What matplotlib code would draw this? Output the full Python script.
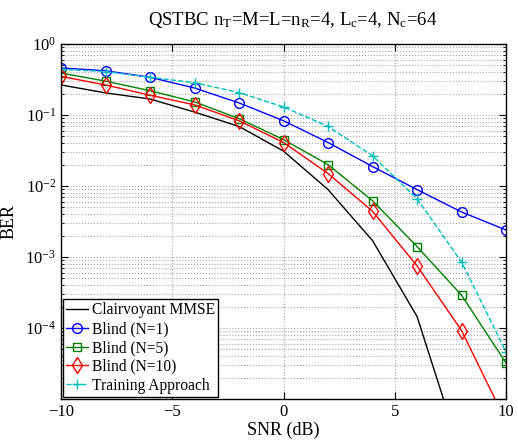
import numpy as np
import matplotlib
matplotlib.use("Agg")
import matplotlib.pyplot as plt
from matplotlib.ticker import LogLocator, NullFormatter, FuncFormatter

plt.rcParams["font.family"] = ["Liberation Serif", "DejaVu Serif"]
plt.rcParams["mathtext.fontset"] = "custom"
plt.rcParams["mathtext.rm"] = "Liberation Serif"
plt.rcParams["mathtext.it"] = "Liberation Serif:italic"

# data
snr = [-10, -8, -6, -4, -2, 0, 2, 4, 6, 8, 10]
snr_mmse = [-10, -8, -6, -4, -2, 0, 2, 4, 6, 8]
ber_mmse = [0.265, 0.205, 0.168, 0.11, 0.069, 0.031, 0.0089, 0.0017, 1.45e-4, 1.6e-6]
ber_n1 = [0.46, 0.42, 0.34, 0.24, 0.148, 0.083, 0.041, 0.0188, 0.0089, 0.0043, 0.0024]
ber_n5 = [0.39, 0.30, 0.22, 0.153, 0.089, 0.045, 0.020, 0.0062, 0.0014, 2.9e-4, 3.2e-5]
ber_n10 = [0.35, 0.265, 0.19, 0.139, 0.083, 0.041, 0.015, 0.0044, 7.5e-4, 9.2e-5, 4.8e-6]
ber_train = [0.44, 0.41, 0.34, 0.285, 0.207, 0.13, 0.069, 0.0266, 0.0066, 8.5e-4, 4.6e-5]

fig = plt.figure(figsize=(5.18, 4.41), dpi=100)
ax = fig.add_axes([0.1178, 0.0952, 0.977 - 0.1178, 0.9002 - 0.0952])

ax.semilogy(snr_mmse, ber_mmse, "-", color="k", lw=1.0, label="Clairvoyant MMSE")
ax.semilogy(snr, ber_n1, "-o", color="b", lw=1.0, ms=7, mfc="none", mew=1.0,
            label="Blind (N=1)")
ax.semilogy(snr, ber_n5, "-s", color=(0, 0.5, 0), lw=1.0, ms=6, mfc="none",
            mew=1.0, label="Blind (N=5)")
ax.semilogy(snr, ber_n10, "-d", color="r", lw=1.0, ms=8, mfc="none", mew=1.0,
            label="Blind (N=10)")
ax.semilogy(snr, ber_train, "--+", color=(0, 0.75, 0.75), lw=1.0, ms=7,
            mew=1.0, label="Training Approach")

ax.set_xlim(-10, 10)
ax.set_ylim(1e-5, 1)
ax.set_xticks([-10, -5, 0, 5, 10])
ax.yaxis.set_major_locator(LogLocator(base=10, numticks=10))
ax.yaxis.set_minor_locator(LogLocator(base=10, subs=np.arange(2, 10), numticks=20))
ax.yaxis.set_minor_formatter(NullFormatter())


def ylab(v, pos):
    e = int(round(np.log10(v)))
    if e <= -5:
        return ""
    return r"$10^{%d}$" % e


ax.yaxis.set_major_formatter(FuncFormatter(ylab))

ax.grid(True, which="major", linestyle=":", color="0.65", lw=0.8)
ax.grid(True, which="minor", axis="y", linestyle=":", color="0.65", lw=0.8)
ax.tick_params(which="both", direction="in", top=True, right=True, labelsize=12)
ax.tick_params(which="major", length=5)
ax.tick_params(which="minor", length=2.5)
for sp in ax.spines.values():
    sp.set_linewidth(1.0)

ax.set_xlabel("SNR (dB)", fontsize=13, labelpad=1)
ax.set_ylabel("BER", fontsize=13)
ax.yaxis.set_label_coords(-0.097, 0.5)
ax.set_title(r"QSTBC n$_{\rm T}$=M=L=n$_{\rm R}$=4, L$_{\rm c}$=4, N$_{\rm c}$=64",
             fontsize=13.5, pad=14, x=0.52)

leg = ax.legend(loc="lower left", fontsize=11.2, fancybox=False, framealpha=1,
                edgecolor="k", borderpad=0.2, labelspacing=0.18,
                handlelength=1.4, handletextpad=0.25, borderaxespad=0.15)
leg.get_frame().set_linewidth(1.0)

fig.savefig("out.png", dpi=100)
